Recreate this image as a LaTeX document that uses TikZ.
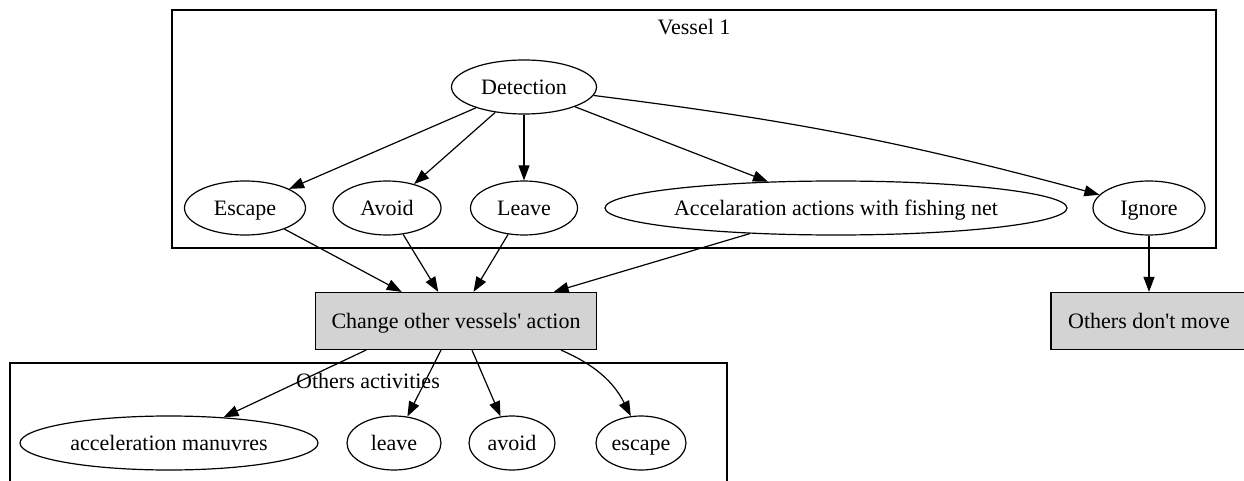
\documentclass[tikz,border=0pt]{standalone}
\usepackage{fontspec}
\setmainfont{Liberation Serif}
\usepackage{tikz}
\usetikzlibrary{arrows.meta,shapes.geometric}
\definecolor{boxgray}{HTML}{D3D3D3}

\begin{document}
\begin{tikzpicture}[x=1pt,y=-1pt,line width=1.2pt,>={Triangle[length=15pt,width=11pt]},
    every node/.style={font=\fontsize{22}{26}\selectfont,text height=16pt,text depth=1pt},
    oval/.style={draw,ellipse,inner sep=0pt,minimum height=54pt},
    act/.style={draw,rectangle,fill=boxgray,minimum height=57pt}]

      \useasboundingbox (0,0) rectangle (1244,481);
      \clip (0,0) rectangle (1244,481);

      % clusters
      \draw (172,10) rectangle (1216,248);
      \node (v1) at (694,27) {Vessel 1};
      \draw (10,363) rectangle (727,500);
      \node (oa) at (368,381) {Others activities};

      \node[oval,minimum width=145pt] (det) at (524,87) {Detection};
      \node[oval,minimum width=121pt] (esc) at (245,208) {Escape};
      \node[oval,minimum width=108pt] (avd) at (387,208) {Avoid};
      \node[oval,minimum width=107pt] (lve) at (524,208) {Leave};
      \node[oval,minimum width=462pt] (acc) at (836,208) {Accelaration actions with fishing net};
      \node[oval,minimum width=112pt] (ign) at (1149,208) {Ignore};

      \node[act,minimum width=281pt] (chg) at (456,321) {Change other vessels\textquotesingle\ action};
      \node[act,minimum width=196pt] (nomv) at (1149,321) {Others don\textquotesingle t move};

      \node[oval,minimum width=298pt] (accm) at (169,443) {acceleration manuvres};
      \node[oval,minimum width=94pt] (lv) at (394,443) {leave};
      \node[oval,minimum width=86pt] (av) at (512,443) {avoid};
      \node[oval,minimum width=90pt] (es) at (641,443) {escape};

      \draw[->] (det) -- (esc);
      \draw[->] (det) -- (avd);
      \draw[->] (det) -- (lve);
      \draw[->] (det) -- (acc);
      \draw[->] (det) to[bend left=4] (ign);

      \draw[->] (esc) -- (chg);
      \draw[->] (avd) -- (chg);
      \draw[->] (lve) -- (chg);
      \draw[->] (acc) -- (chg);
      \draw[->] (ign) -- (nomv);

      \draw[->] ([xshift=-90pt]chg.south) -- (accm);
      \draw[->] ([xshift=-15pt]chg.south) -- (lv);
      \draw[->] ([xshift=16pt]chg.south) -- (av);
      \draw[->] ([xshift=105pt]chg.south) to[bend left=20] (es);
    \end{tikzpicture}
\end{document}
